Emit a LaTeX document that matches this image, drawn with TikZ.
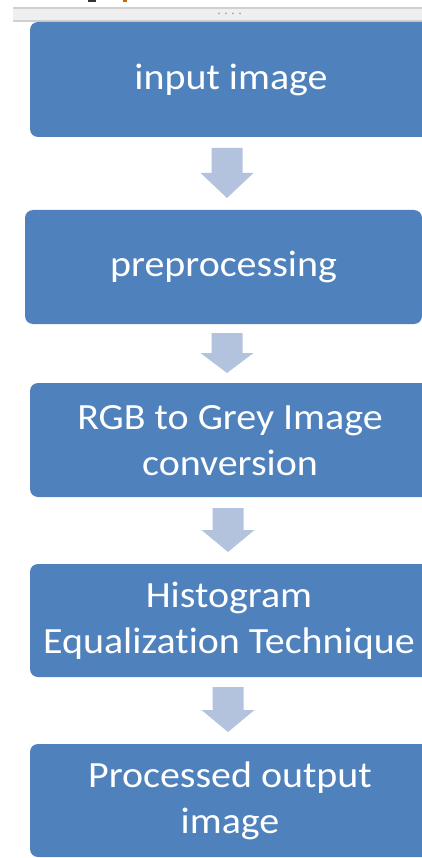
\documentclass[tikz,border=0pt]{standalone}
\usepackage{fontspec}
\setmainfont{Carlito}[Ligatures={NoCommon}]
\definecolor{boxblue}{HTML}{4F81BD}
\definecolor{arrowblue}{HTML}{B3C3DE}
\definecolor{barfill}{HTML}{EFEFEF}
\definecolor{barline}{HTML}{D0D0D0}
\newcommand\blockarr[4]{% center x, top, head start, tip
  \fill[arrowblue] (#1-15.5,#2) -- (#1+15.5,#2) -- (#1+15.5,#3) -- (#1+26.5,#3)
    -- (#1,#4) -- (#1-26.5,#3) -- (#1-15.5,#3) -- cycle;}
\begin{document}
\begin{tikzpicture}[x=1pt,y=-1pt,
  box/.style={draw=none,fill=boxblue,rounded corners=8pt,inner sep=0pt},
  txt/.style={text=white,align=center,xscale=1.08,inner sep=0pt,
    font=\fontsize{37}{46}\selectfont}]
\useasboundingbox (0,0) rectangle (422,858);
\clip (0,0) rectangle (422,858);
% top toolbar remnant
\fill[barfill] (13,7) rectangle (422,22);
\draw[barline,line width=1.5pt] (13,8) -- (422,8);
\draw[barline,line width=1.5pt] (13,21) -- (422,21);
\foreach \dx in {0,7,14,21}{\fill[gray!70] (219+\dx,13.5) circle (1pt);}
\fill[black!80] (88,0) rectangle (96,2);
\fill[orange!80!black] (123,0) rectangle (127,2.5);
% boxes
\node[box,minimum width=402pt,minimum height=115pt] (b1) at (231,79.5) {};
\node[box,minimum width=397pt,minimum height=114pt] (b2) at (223.5,267) {};
\node[box,minimum width=402pt,minimum height=114pt] (b3) at (231,440) {};
\node[box,minimum width=402pt,minimum height=113pt] (b4) at (231,620.5) {};
\node[box,minimum width=402pt,minimum height=113pt] (b5) at (231,800.5) {};
% texts
\node[txt] (t1) at (b1.center) {input image};
\node[txt] (t2) at (b2.center) {preprocessing};
\node[txt] (t3) at (230,441) {RGB to Grey Image\\conversion};
\node[txt] (t4) at (229,621) {Histogram\\Equalization Technique};
\node[txt] (t5) at (230,801) {Processed output\\image};
% arrows
\blockarr{227}{148}{173}{198}
\blockarr{227}{333}{353}{373}
\blockarr{228}{508}{530}{552}
\blockarr{228}{687}{710}{732}
\end{tikzpicture}
\end{document}
